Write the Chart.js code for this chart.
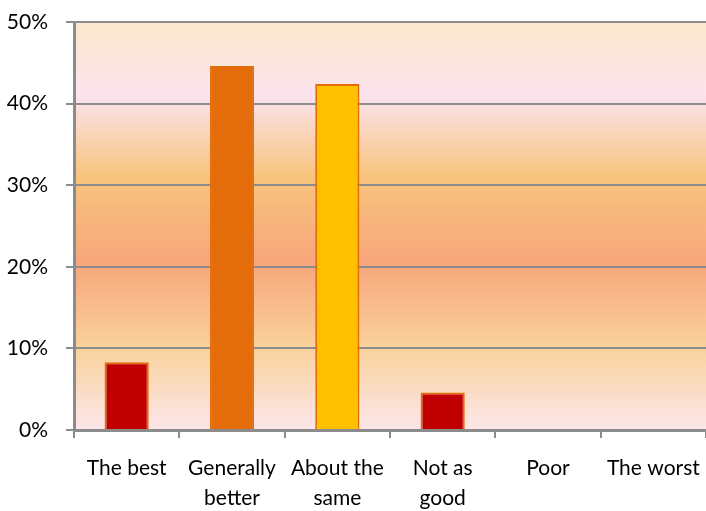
<!DOCTYPE html>
<html>
<head>
<meta charset="utf-8">
<script src="https://cdn.jsdelivr.net/npm/chart.js@4/dist/chart.umd.min.js"></script>
<style>
  html, body { margin: 0; padding: 0; background: #ffffff; }
  #wrap { width: 706px; height: 511px; }
</style>
</head>
<body>
<div id="wrap"><canvas id="c"></canvas></div>
<script>
// Survey answers and their share of respondents (%)
const categories = [["The best"], ["Generally", "better"], ["About the", "same"], ["Not as", "good"], ["Poor"], ["The worst"]];
const shares = [8.3, 44.6, 42.4, 4.6, 0, 0];
const barColors = ["#C00000", "#E46C0A", "#FFC000", "#C00000", "#C00000", "#C00000"];
const yTicks = [0, 10, 20, 30, 40, 50];

// Soft banded gradient behind the plot area
const bandBackground = {
  id: "bandBackground",
  beforeDraw(chart) {
    const { ctx, chartArea: a } = chart;
    const g = ctx.createLinearGradient(0, a.top, 0, a.bottom);
    g.addColorStop(0.00, "#FAE9CC");
    g.addColorStop(0.18, "#FCE3EE");
    g.addColorStop(0.38, "#F8C47C");
    g.addColorStop(0.59, "#F7A67B");
    g.addColorStop(0.80, "#F9D29C");
    g.addColorStop(1.00, "#FCE6EA");
    ctx.save();
    ctx.fillStyle = g;
    ctx.fillRect(a.left, a.top, a.right - a.left, a.bottom - a.top);
    ctx.restore();
  }
};

const font = { family: "Lato, 'Open Sans', sans-serif", size: 21, lineHeight: 1.4 };

new Chart(document.getElementById("c"), {
  type: "bar",
  data: {
    labels: categories,
    datasets: [{
      data: shares,
      backgroundColor: barColors,
      borderColor: "#E46C0A",
      borderWidth: 2,
      borderSkipped: "bottom",
      barPercentage: 0.42,
      categoryPercentage: 1
    }]
  },
  options: {
    responsive: true,
    maintainAspectRatio: false,
    animation: false,
    layout: { padding: { top: 22, right: 0, left: 0, bottom: 0 } },
    plugins: { legend: { display: false }, tooltip: { enabled: false } },
    scales: {
      x: {
        offset: true,
        grid: {
          offset: true,
          drawOnChartArea: false,
          drawTicks: true,
          tickLength: 8,
          color: "#8C8C8C",
          lineWidth: 2
        },
        border: { display: true, color: "#8C8C8C", width: 3 },
        ticks: { color: "#000000", font: font, maxRotation: 0, autoSkip: false, padding: 16 },
        afterFit(s) { s.height = 81; s.paddingLeft = 0; s.paddingRight = 0; }
      },
      y: {
        min: 0,
        max: 50,
        afterBuildTicks(s) { s.ticks = yTicks.map(v => ({ value: v })); },
        grid: {
          color: "#8C8C8C",
          lineWidth: 2,
          drawTicks: true,
          tickLength: 8
        },
        border: { display: true, color: "#8C8C8C", width: 3 },
        ticks: {
          color: "#000000",
          font: { family: font.family, size: 21 },
          padding: 18,
          callback: v => v + "%"
        },
        afterFit(s) { s.width = 74; s.paddingTop = 0; s.paddingBottom = 0; }
      }
    }
  },
  plugins: [bandBackground]
});
</script>
</body>
</html>
